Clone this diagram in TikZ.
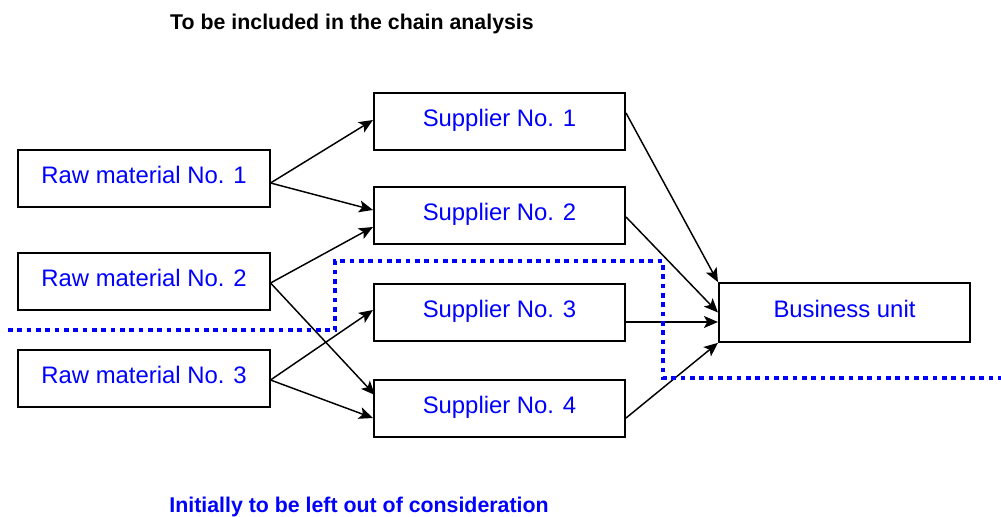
\documentclass[tikz,border=0pt]{standalone}
\usepackage{fontspec}
\setmainfont{Liberation Sans}
\usetikzlibrary{arrows.meta,calc}
\definecolor{txtblue}{RGB}{0,0,255}
\begin{document}
\begin{tikzpicture}[x=0.75pt,y=-0.75pt,
  box/.style={draw,line width=1.3pt,minimum width=188.5pt,minimum height=42.75pt,
    inner sep=0pt,text height=13pt,text depth=5.5pt,text=txtblue,
    font=\fontsize{17.9}{20}\selectfont},
  link/.style={line width=1.1pt,-{Stealth[length=10.5pt,width=9pt,inset=2.5pt]}},
  border/.style={draw=txtblue,line width=3.6pt,dash pattern=on 3.4pt off 3.6pt},
  heading/.style={font=\bfseries\fontsize{16}{18}\selectfont}]
\useasboundingbox (0,0) rectangle (1001,517);

% headings
\node[heading] (top) at (352,24) {To be included in the chain analysis};
\node[heading,text=txtblue] (bottom) at (359,507) {Initially to be left out of consideration};

% raw materials
\node[box] (raw1) at (144,178.5) {Raw material No. 1};
\node[box] (raw2) at (144,281.5) {Raw material No. 2};
\node[box] (raw3) at (144,378.5) {Raw material No. 3};

% suppliers
\node[box] (sup1) at (499.5,121.5) {Supplier No. 1};
\node[box] (sup2) at (499.5,215.5) {Supplier No. 2};
\node[box] (sup3) at (499.5,312.5) {Supplier No. 3};
\node[box] (sup4) at (499.5,408.5) {Supplier No. 4};

% business unit
\node[box,minimum height=44.25pt] (bu) at (844.5,312.5) {Business unit};

% raw materials to suppliers
\draw[link] ($(raw1.east)+(0,4.5)$) -- ($(sup1.west)+(0,-1.5)$);
\draw[link] ($(raw1.east)+(0,4.5)$) -- ($(sup2.west)+(0,-5.5)$);
\draw[link] ($(raw2.east)+(0,1.5)$) -- ($(sup2.west)+(0,11.5)$);
\draw[link] ($(raw2.east)+(0,1.5)$) -- ($(sup4.west)+(2,-13.5)$);
\draw[link] ($(raw3.east)+(0,1.5)$) -- ($(sup3.west)+(0,-2.5)$);
\draw[link] ($(raw3.east)+(0,1.5)$) -- ($(sup4.west)+(0,9.5)$);

% suppliers to business unit
\draw[link] ($(sup1.east)+(0,-8.5)$) -- (bu.north west);
\draw[link] ($(sup2.east)+(0,1.5)$) -- (bu.west);
\draw[link] ($(sup3.east)+(0,9.5)$) -- ($(bu.west)+(0,9.5)$);
\draw[link] ($(sup4.east)+(0,9.5)$) -- (bu.south west);

% boundary of the analysed chain
\draw[border] (8,330) -- (335,330) -- (335,261) -- (663,261) -- (663,378) -- (1001,378);
\end{tikzpicture}
\end{document}
